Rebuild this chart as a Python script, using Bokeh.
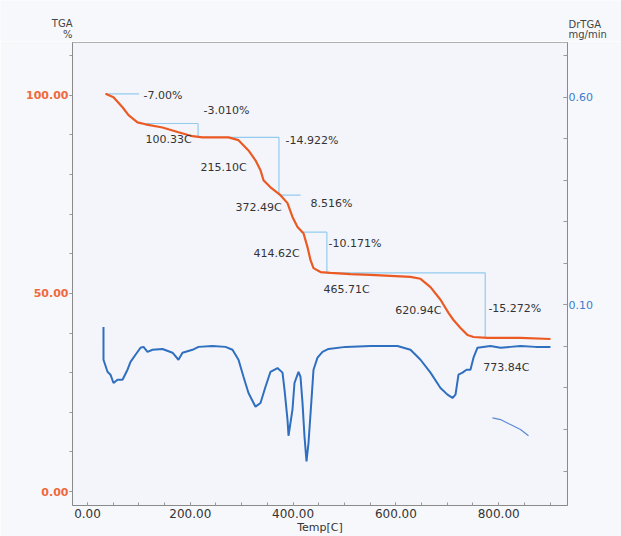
from bokeh.plotting import figure
from bokeh.models import Range1d, LinearAxis, FixedTicker, PrintfTickFormatter
from bokeh.layouts import column
from bokeh.core.properties import value
from bokeh.embed import file_html
from bokeh.resources import INLINE

# ---- TGA curve (Temperature [C], weight %) ----
tga_T = [35, 50.6, 68.1, 79.8, 97.3, 112.8, 145.9, 177.0, 204.3, 223.7, 274.3, 293.8,
         313.2, 326.8, 336.6, 342.4, 356.0, 375.5, 389.1, 398.8, 408.6, 420.2, 428.0,
         433.9, 439.7, 453.3, 472.8, 511.7, 550.6, 628.4, 647.9, 667.3, 686.8, 702.3,
         712.1, 725.7, 739.3, 751.0, 778.2, 842.4, 900.8]
tga_w = [100.4, 99.5, 97.0, 95.0, 93.2, 92.7, 91.9, 90.7, 89.7, 89.4, 89.4, 88.7,
         86.1, 83.6, 81.1, 78.6, 76.8, 74.8, 72.8, 69.3, 66.8, 65.2, 61.7,
         58.4, 56.4, 55.4, 55.2, 54.9, 54.7, 54.2, 53.7, 51.6, 48.4, 45.1,
         43.3, 41.3, 39.5, 39.0, 38.8, 38.8, 38.5]

# ---- DrTGA curve (Temperature [C], mg/min) ----
dtg_T = [31.1, 31.1, 38.9, 44.7, 50.6, 58.4, 68.1, 77.8, 83.7, 93.4, 103.1, 109.0,
         116.7, 126.5, 145.9, 165.4, 177.0, 184.8, 204.3, 216.0, 243.2, 268.5, 282.1,
         293.8, 303.5, 313.2, 326.8, 336.6, 346.3, 356.0, 369.6, 379.4, 383.3, 389.1,
         391.1, 398.8, 402.7, 410.5, 414.4, 418.3, 422.2, 426.1, 430.0, 435.8, 439.7,
         447.5, 457.2, 468.9, 502.0, 550.6, 603.1, 628.4, 647.9, 667.3, 686.8, 700.4,
         710.1, 716.0, 721.8, 729.6, 737.4, 745.1, 751.0, 758.8, 784.0, 803.5, 822.9,
         842.4, 871.6, 900.8]
dtg_v = [0.047, -0.032, -0.061, -0.068, -0.088, -0.080, -0.080, -0.056, -0.037, -0.020,
         -0.003, -0.001, -0.013, -0.008, -0.006, -0.015, -0.032, -0.015, -0.008, -0.001,
         0.001, -0.001, -0.008, -0.032, -0.073, -0.112, -0.145, -0.136, -0.097, -0.061,
         -0.052, -0.063, -0.104, -0.176, -0.215, -0.152, -0.088, -0.061, -0.073, -0.136,
         -0.217, -0.277, -0.232, -0.128, -0.056, -0.027, -0.013, -0.006, -0.001, 0.001,
         0.001, -0.008, -0.032, -0.063, -0.100, -0.116, -0.124, -0.116, -0.068, -0.063,
         -0.056, -0.056, -0.027, -0.003, 0.001, -0.003, -0.001, 0.001, -0.001, -0.001]

# stray trace segment (lower right)
stray_T = [787.9, 803.5, 822.9, 842.4, 858.0]
stray_v = [-0.172, -0.176, -0.188, -0.200, -0.215]

# ---- weight-loss steps ----
step_T0 = [35, 100.33, 215.10, 372.49, 414.62, 465.71]
step_T1 = [100.33, 215.10, 372.49, 414.62, 465.71, 773.84]
step_w0 = [100.4, 92.9, 89.4, 74.8, 65.5, 55.2]
step_w1 = [92.9, 89.4, 74.8, 65.5, 55.2, 38.8]
step_drop = [False, True, True, False, True, True]

# ---- annotation texts ----
loss_text = ["-7.00%", "-3.010%", "-14.922%", "8.516%", "-10.171%", "-15.272%"]
loss_T = [109, 225.7, 385.2, 433.9, 468.9, 780]
loss_w = [100.0, 96.2, 88.7, 72.8, 62.7, 46.1]
temp_text = ["100.33C", "215.10C", "372.49C", "414.62C", "465.71C", "620.94C", "773.84C"]
temp_T = [112.8, 219.8, 288.0, 323.0, 459.0, 599.0, 770.0]
temp_w = [88.9, 81.9, 71.8, 60.2, 50.9, 45.6, 31.2]

x_ticks = [0, 200, 400, 600, 800]
y_ticks = [0, 50, 100]
y2_ticks = [0.10, 0.60]

left_title = ["TGA", "%"]
right_title = ["DrTGA", "mg/min"]

ORANGE = "#ec5a24"
BLUE = "#2f6fbf"
STEP = "#93cbee"
FONT = "DejaVu Sans"
BG = "#f7f8fb"

# ---- header strip holding the axis titles ----
h = figure(width=621, height=41, output_backend="svg", toolbar_location=None,
           x_range=Range1d(0, 621), y_range=Range1d(41, 0),
           x_axis_type=None, y_axis_type=None, min_border=0)
h.frame_align = False
h.xgrid.visible = False
h.ygrid.visible = False
h.outline_line_color = None
h.background_fill_color = BG
h.border_fill_color = BG
h.text(x=[72, 72], y=[23, 34], text=left_title, text_font=value(FONT), text_font_size="10px",
       text_color="#444444", text_baseline="middle", text_align="right")
h.text(x=[568, 568], y=[24, 34], text=right_title, text_font=value(FONT), text_font_size="10px",
       text_color="#444444", text_baseline="middle", text_align="left")

# ---- main chart ----
p = figure(width=621, height=495, output_backend="svg", toolbar_location=None,
           x_range=Range1d(-29.2, 933.9), y_range=Range1d(-3.53, 113.35),
           min_border_left=72, min_border_right=54, min_border_top=1, min_border_bottom=30)
p.frame_align = False
p.extra_y_ranges = {"dtg": Range1d(-0.383, 0.732)}
p.background_fill_color = "#f4f5fa"
p.border_fill_color = BG
p.outline_line_color = "#b0b0b0"
p.xgrid.visible = False
p.ygrid.visible = False

# left axis
ya = p.yaxis[0]
ya.ticker = FixedTicker(ticks=y_ticks, minor_ticks=list(range(0, 111, 10)))
ya.formatter = PrintfTickFormatter(format="%.2f")
ya.major_label_text_color = "#ef6a3c"
ya.major_label_text_font = FONT
ya.major_label_text_font_size = "11px"
ya.major_label_text_font_style = "bold"
ya.axis_line_color = "#8a8a8a"
ya.major_tick_out = 3
ya.major_tick_in = 0
ya.minor_tick_out = 3
ya.minor_tick_in = 0
ya.major_tick_line_color = "#999999"
ya.minor_tick_line_color = "#999999"
ya.major_label_standoff = 1

# bottom axis
xa = p.xaxis[0]
xa.ticker = FixedTicker(ticks=x_ticks, minor_ticks=list(range(0, 901, 50)))
xa.formatter = PrintfTickFormatter(format="%.2f")
xa.major_label_text_color = "#333333"
xa.major_label_text_font = FONT
xa.major_label_text_font_size = "12px"
xa.axis_line_color = "#8a8a8a"
xa.major_tick_out = 0
xa.major_tick_in = 3
xa.minor_tick_out = 0
xa.minor_tick_in = 3
xa.major_tick_line_color = "#999999"
xa.minor_tick_line_color = "#999999"
xa.major_label_standoff = 3
xa.axis_label = "Temp[C]"
xa.axis_label_text_font = FONT
xa.axis_label_text_font_size = "11px"
xa.axis_label_text_font_style = "normal"
xa.axis_label_text_color = "#333333"
xa.axis_label_standoff = 0

# right axis
ra = LinearAxis(y_range_name="dtg")
ra.ticker = FixedTicker(ticks=y2_ticks, minor_ticks=[-0.3, -0.2, -0.1, 0.0, 0.1, 0.2, 0.3, 0.4, 0.5, 0.6, 0.7])
ra.formatter = PrintfTickFormatter(format="%.2f")
ra.major_label_text_color = "#3b7bd0"
ra.major_label_text_font = FONT
ra.major_label_text_font_size = "11px"
ra.axis_line_color = "#8a8a8a"
ra.major_tick_out = 0
ra.major_tick_in = 4
ra.minor_tick_out = 0
ra.minor_tick_in = 4
ra.major_tick_line_color = "#999999"
ra.minor_tick_line_color = "#999999"
ra.major_label_standoff = 1
p.add_layout(ra, "right")

# step brackets
hx0, hx1, hy0, hy1 = [], [], [], []
for t0, t1, w0, w1, d in zip(step_T0, step_T1, step_w0, step_w1, step_drop):
    hx0.append(t0); hx1.append(t1); hy0.append(w0); hy1.append(w0)
    if d:
        hx0.append(t1); hx1.append(t1); hy0.append(w0); hy1.append(w1)
p.segment(x0=hx0, y0=hy0, x1=hx1, y1=hy1, line_color=STEP, line_width=1.2)

# curves
p.line(tga_T, tga_w, line_color=ORANGE, line_width=2.2)
p.line(dtg_T, dtg_v, line_color=BLUE, line_width=2.0, y_range_name="dtg")
p.line(stray_T, stray_v, line_color="#5a8ad6", line_width=1.2, y_range_name="dtg")

# texts
p.text(x=loss_T, y=loss_w, text=loss_text, text_font=value(FONT), text_font_size="11px",
       text_color="#333333", text_baseline="middle", text_align="left")
p.text(x=temp_T, y=temp_w, text=temp_text, text_font=value(FONT), text_font_size="11px",
       text_color="#333333", text_baseline="middle", text_align="left")

layout = column(h, p, spacing=0)
open("out.html", "w").write(file_html(layout, INLINE))
